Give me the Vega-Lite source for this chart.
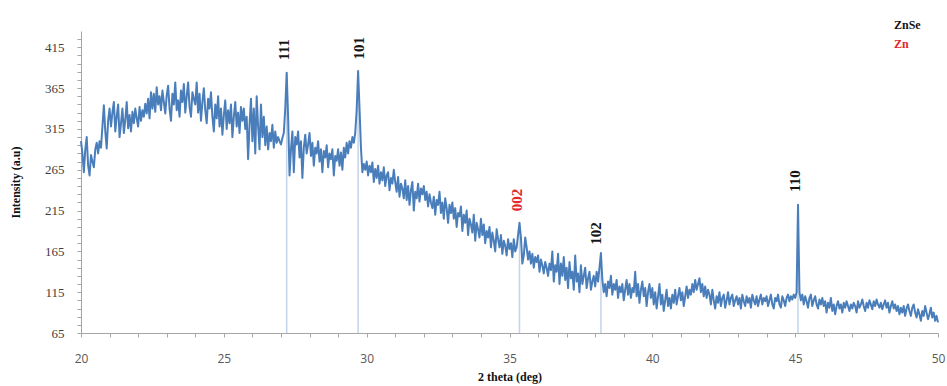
{
"$schema": "https://vega.github.io/schema/vega-lite/v6.json",
"width": 857, "height": 302,
"autosize": {"type": "none"},
"padding": {"left": 81, "top": 31, "right": 9, "bottom": 53},
"background": "white",
"config": {"view": {"stroke": null}},
"datasets": {
"xrd": [
{"t":20.00,"i":300},{"t":20.05,"i":285},{"t":20.10,"i":262},{"t":20.15,"i":290},{"t":20.20,"i":305},{"t":20.25,"i":270},{"t":20.30,"i":258},{"t":20.35,"i":283},{"t":20.40,"i":275},{"t":20.45,"i":268},{"t":20.50,"i":290},{"t":20.55,"i":298},{"t":20.60,"i":285},{"t":20.65,"i":300},{"t":20.70,"i":292},{"t":20.75,"i":318},{"t":20.80,"i":344},{"t":20.85,"i":312},{"t":20.90,"i":291},{"t":20.95,"i":325},
{"t":21.00,"i":340},{"t":21.05,"i":318},{"t":21.10,"i":335},{"t":21.15,"i":348},{"t":21.20,"i":312},{"t":21.25,"i":330},{"t":21.30,"i":345},{"t":21.35,"i":305},{"t":21.40,"i":322},{"t":21.45,"i":340},{"t":21.50,"i":310},{"t":21.55,"i":326},{"t":21.60,"i":348},{"t":21.65,"i":316},{"t":21.70,"i":332},{"t":21.75,"i":312},{"t":21.80,"i":336},{"t":21.85,"i":322},{"t":21.90,"i":340},{"t":21.95,"i":328},
{"t":22.00,"i":318},{"t":22.05,"i":342},{"t":22.10,"i":325},{"t":22.15,"i":338},{"t":22.20,"i":330},{"t":22.25,"i":346},{"t":22.30,"i":334},{"t":22.35,"i":352},{"t":22.40,"i":328},{"t":22.45,"i":360},{"t":22.50,"i":340},{"t":22.55,"i":358},{"t":22.60,"i":336},{"t":22.65,"i":366},{"t":22.70,"i":345},{"t":22.75,"i":355},{"t":22.80,"i":338},{"t":22.85,"i":362},{"t":22.90,"i":348},{"t":22.95,"i":334},
{"t":23.00,"i":356},{"t":23.05,"i":368},{"t":23.10,"i":340},{"t":23.15,"i":325},{"t":23.20,"i":358},{"t":23.25,"i":345},{"t":23.30,"i":372},{"t":23.35,"i":338},{"t":23.40,"i":350},{"t":23.45,"i":330},{"t":23.50,"i":362},{"t":23.55,"i":348},{"t":23.60,"i":370},{"t":23.65,"i":335},{"t":23.70,"i":355},{"t":23.75,"i":372},{"t":23.80,"i":342},{"t":23.85,"i":330},{"t":23.90,"i":360},{"t":23.95,"i":352},
{"t":24.00,"i":345},{"t":24.05,"i":372},{"t":24.10,"i":335},{"t":24.15,"i":358},{"t":24.20,"i":325},{"t":24.25,"i":348},{"t":24.30,"i":365},{"t":24.35,"i":338},{"t":24.40,"i":322},{"t":24.45,"i":352},{"t":24.50,"i":340},{"t":24.55,"i":360},{"t":24.60,"i":330},{"t":24.65,"i":312},{"t":24.70,"i":345},{"t":24.75,"i":328},{"t":24.80,"i":355},{"t":24.85,"i":318},{"t":24.90,"i":340},{"t":24.95,"i":308},
{"t":25.00,"i":332},{"t":25.05,"i":350},{"t":25.10,"i":315},{"t":25.15,"i":338},{"t":25.20,"i":322},{"t":25.25,"i":345},{"t":25.30,"i":305},{"t":25.35,"i":330},{"t":25.40,"i":348},{"t":25.45,"i":318},{"t":25.50,"i":335},{"t":25.55,"i":310},{"t":25.60,"i":342},{"t":25.65,"i":325},{"t":25.70,"i":340},{"t":25.75,"i":315},{"t":25.80,"i":330},{"t":25.85,"i":278},{"t":25.90,"i":320},{"t":25.95,"i":352},
{"t":26.00,"i":300},{"t":26.05,"i":340},{"t":26.10,"i":285},{"t":26.15,"i":355},{"t":26.20,"i":318},{"t":26.25,"i":290},{"t":26.30,"i":345},{"t":26.35,"i":305},{"t":26.40,"i":330},{"t":26.45,"i":295},{"t":26.50,"i":318},{"t":26.55,"i":290},{"t":26.60,"i":310},{"t":26.65,"i":300},{"t":26.70,"i":320},{"t":26.75,"i":292},{"t":26.80,"i":312},{"t":26.85,"i":298},{"t":26.90,"i":305},{"t":26.95,"i":300},
{"t":27.00,"i":296},{"t":27.05,"i":304},{"t":27.10,"i":310},{"t":27.15,"i":340},{"t":27.20,"i":384},{"t":27.25,"i":330},{"t":27.30,"i":258},{"t":27.35,"i":290},{"t":27.40,"i":312},{"t":27.45,"i":262},{"t":27.50,"i":305},{"t":27.55,"i":296},{"t":27.60,"i":312},{"t":27.65,"i":280},{"t":27.70,"i":300},{"t":27.75,"i":255},{"t":27.80,"i":292},{"t":27.85,"i":308},{"t":27.90,"i":285},{"t":27.95,"i":296},
{"t":28.00,"i":310},{"t":28.05,"i":282},{"t":28.10,"i":298},{"t":28.15,"i":270},{"t":28.20,"i":292},{"t":28.25,"i":285},{"t":28.30,"i":300},{"t":28.35,"i":275},{"t":28.40,"i":290},{"t":28.45,"i":262},{"t":28.50,"i":288},{"t":28.55,"i":280},{"t":28.60,"i":295},{"t":28.65,"i":268},{"t":28.70,"i":285},{"t":28.75,"i":278},{"t":28.80,"i":290},{"t":28.85,"i":258},{"t":28.90,"i":282},{"t":28.95,"i":276},
{"t":29.00,"i":290},{"t":29.05,"i":270},{"t":29.10,"i":286},{"t":29.15,"i":265},{"t":29.20,"i":292},{"t":29.25,"i":280},{"t":29.30,"i":298},{"t":29.35,"i":285},{"t":29.40,"i":300},{"t":29.45,"i":292},{"t":29.50,"i":305},{"t":29.55,"i":298},{"t":29.60,"i":310},{"t":29.65,"i":338},{"t":29.70,"i":386},{"t":29.75,"i":340},{"t":29.80,"i":292},{"t":29.85,"i":262},{"t":29.90,"i":272},{"t":29.95,"i":265},
{"t":30.00,"i":275},{"t":30.05,"i":258},{"t":30.10,"i":270},{"t":30.15,"i":262},{"t":30.20,"i":274},{"t":30.25,"i":250},{"t":30.30,"i":266},{"t":30.35,"i":255},{"t":30.40,"i":270},{"t":30.45,"i":248},{"t":30.50,"i":262},{"t":30.55,"i":252},{"t":30.60,"i":268},{"t":30.65,"i":245},{"t":30.70,"i":258},{"t":30.75,"i":262},{"t":30.80,"i":240},{"t":30.85,"i":255},{"t":30.90,"i":248},{"t":30.95,"i":265},
{"t":31.00,"i":250},{"t":31.05,"i":238},{"t":31.10,"i":256},{"t":31.15,"i":232},{"t":31.20,"i":248},{"t":31.25,"i":242},{"t":31.30,"i":230},{"t":31.35,"i":252},{"t":31.40,"i":228},{"t":31.45,"i":245},{"t":31.50,"i":222},{"t":31.55,"i":240},{"t":31.60,"i":250},{"t":31.65,"i":215},{"t":31.70,"i":238},{"t":31.75,"i":230},{"t":31.80,"i":248},{"t":31.85,"i":226},{"t":31.90,"i":242},{"t":31.95,"i":235},
{"t":32.00,"i":245},{"t":32.05,"i":228},{"t":32.10,"i":238},{"t":32.15,"i":220},{"t":32.20,"i":235},{"t":32.25,"i":225},{"t":32.30,"i":218},{"t":32.35,"i":232},{"t":32.40,"i":210},{"t":32.45,"i":228},{"t":32.50,"i":222},{"t":32.55,"i":238},{"t":32.60,"i":212},{"t":32.65,"i":225},{"t":32.70,"i":205},{"t":32.75,"i":230},{"t":32.80,"i":218},{"t":32.85,"i":200},{"t":32.90,"i":222},{"t":32.95,"i":212},
{"t":33.00,"i":225},{"t":33.05,"i":205},{"t":33.10,"i":218},{"t":33.15,"i":195},{"t":33.20,"i":212},{"t":33.25,"i":208},{"t":33.30,"i":220},{"t":33.35,"i":190},{"t":33.40,"i":210},{"t":33.45,"i":200},{"t":33.50,"i":215},{"t":33.55,"i":185},{"t":33.60,"i":205},{"t":33.65,"i":198},{"t":33.70,"i":188},{"t":33.75,"i":210},{"t":33.80,"i":178},{"t":33.85,"i":200},{"t":33.90,"i":192},{"t":33.95,"i":182},
{"t":34.00,"i":205},{"t":34.05,"i":185},{"t":34.10,"i":198},{"t":34.15,"i":175},{"t":34.20,"i":190},{"t":34.25,"i":182},{"t":34.30,"i":195},{"t":34.35,"i":170},{"t":34.40,"i":188},{"t":34.45,"i":178},{"t":34.50,"i":165},{"t":34.55,"i":192},{"t":34.60,"i":180},{"t":34.65,"i":170},{"t":34.70,"i":185},{"t":34.75,"i":162},{"t":34.80,"i":178},{"t":34.85,"i":172},{"t":34.90,"i":160},{"t":34.95,"i":180},
{"t":35.00,"i":168},{"t":35.05,"i":175},{"t":35.10,"i":158},{"t":35.15,"i":180},{"t":35.20,"i":165},{"t":35.25,"i":170},{"t":35.30,"i":185},{"t":35.35,"i":200},{"t":35.40,"i":182},{"t":35.45,"i":150},{"t":35.50,"i":160},{"t":35.55,"i":182},{"t":35.60,"i":170},{"t":35.65,"i":155},{"t":35.70,"i":165},{"t":35.75,"i":150},{"t":35.80,"i":162},{"t":35.85,"i":145},{"t":35.90,"i":158},{"t":35.95,"i":152},
{"t":36.00,"i":160},{"t":36.05,"i":140},{"t":36.10,"i":155},{"t":36.15,"i":148},{"t":36.20,"i":138},{"t":36.25,"i":152},{"t":36.30,"i":145},{"t":36.35,"i":135},{"t":36.40,"i":150},{"t":36.45,"i":142},{"t":36.50,"i":165},{"t":36.55,"i":128},{"t":36.60,"i":148},{"t":36.65,"i":140},{"t":36.70,"i":162},{"t":36.75,"i":125},{"t":36.80,"i":150},{"t":36.85,"i":135},{"t":36.90,"i":158},{"t":36.95,"i":130},
{"t":37.00,"i":145},{"t":37.05,"i":120},{"t":37.10,"i":152},{"t":37.15,"i":132},{"t":37.20,"i":140},{"t":37.25,"i":118},{"t":37.30,"i":160},{"t":37.35,"i":128},{"t":37.40,"i":138},{"t":37.45,"i":115},{"t":37.50,"i":148},{"t":37.55,"i":125},{"t":37.60,"i":135},{"t":37.65,"i":145},{"t":37.70,"i":120},{"t":37.75,"i":132},{"t":37.80,"i":140},{"t":37.85,"i":118},{"t":37.90,"i":128},{"t":37.95,"i":135},
{"t":38.00,"i":122},{"t":38.05,"i":140},{"t":38.10,"i":128},{"t":38.15,"i":145},{"t":38.20,"i":163},{"t":38.25,"i":130},{"t":38.30,"i":115},{"t":38.35,"i":125},{"t":38.40,"i":110},{"t":38.45,"i":128},{"t":38.50,"i":120},{"t":38.55,"i":135},{"t":38.60,"i":112},{"t":38.65,"i":125},{"t":38.70,"i":118},{"t":38.75,"i":130},{"t":38.80,"i":108},{"t":38.85,"i":122},{"t":38.90,"i":115},{"t":38.95,"i":125},
{"t":39.00,"i":105},{"t":39.05,"i":118},{"t":39.10,"i":130},{"t":39.15,"i":112},{"t":39.20,"i":125},{"t":39.25,"i":108},{"t":39.30,"i":120},{"t":39.35,"i":115},{"t":39.40,"i":140},{"t":39.45,"i":110},{"t":39.50,"i":125},{"t":39.55,"i":102},{"t":39.60,"i":118},{"t":39.65,"i":128},{"t":39.70,"i":110},{"t":39.75,"i":120},{"t":39.80,"i":98},{"t":39.85,"i":115},{"t":39.90,"i":125},{"t":39.95,"i":108},
{"t":40.00,"i":120},{"t":40.05,"i":100},{"t":40.10,"i":115},{"t":40.15,"i":95},{"t":40.20,"i":110},{"t":40.25,"i":125},{"t":40.30,"i":100},{"t":40.35,"i":112},{"t":40.40,"i":92},{"t":40.45,"i":105},{"t":40.50,"i":118},{"t":40.55,"i":98},{"t":40.60,"i":108},{"t":40.65,"i":95},{"t":40.70,"i":112},{"t":40.75,"i":102},{"t":40.80,"i":118},{"t":40.85,"i":100},{"t":40.90,"i":110},{"t":40.95,"i":120},
{"t":41.00,"i":105},{"t":41.05,"i":115},{"t":41.10,"i":98},{"t":41.15,"i":110},{"t":41.20,"i":122},{"t":41.25,"i":108},{"t":41.30,"i":118},{"t":41.35,"i":112},{"t":41.40,"i":125},{"t":41.45,"i":115},{"t":41.50,"i":130},{"t":41.55,"i":118},{"t":41.60,"i":125},{"t":41.65,"i":132},{"t":41.70,"i":115},{"t":41.75,"i":125},{"t":41.80,"i":110},{"t":41.85,"i":122},{"t":41.90,"i":108},{"t":41.95,"i":118},
{"t":42.00,"i":112},{"t":42.05,"i":100},{"t":42.10,"i":118},{"t":42.15,"i":105},{"t":42.20,"i":95},{"t":42.25,"i":110},{"t":42.30,"i":102},{"t":42.35,"i":115},{"t":42.40,"i":98},{"t":42.45,"i":108},{"t":42.50,"i":112},{"t":42.55,"i":96},{"t":42.60,"i":105},{"t":42.65,"i":115},{"t":42.70,"i":100},{"t":42.75,"i":108},{"t":42.80,"i":112},{"t":42.85,"i":98},{"t":42.90,"i":105},{"t":42.95,"i":110},
{"t":43.00,"i":100},{"t":43.05,"i":108},{"t":43.10,"i":95},{"t":43.15,"i":112},{"t":43.20,"i":104},{"t":43.25,"i":98},{"t":43.30,"i":110},{"t":43.35,"i":102},{"t":43.40,"i":108},{"t":43.45,"i":96},{"t":43.50,"i":112},{"t":43.55,"i":105},{"t":43.60,"i":100},{"t":43.65,"i":110},{"t":43.70,"i":98},{"t":43.75,"i":106},{"t":43.80,"i":112},{"t":43.85,"i":100},{"t":43.90,"i":108},{"t":43.95,"i":104},
{"t":44.00,"i":110},{"t":44.05,"i":98},{"t":44.10,"i":105},{"t":44.15,"i":112},{"t":44.20,"i":100},{"t":44.25,"i":95},{"t":44.30,"i":108},{"t":44.35,"i":104},{"t":44.40,"i":112},{"t":44.45,"i":100},{"t":44.50,"i":96},{"t":44.55,"i":110},{"t":44.60,"i":105},{"t":44.65,"i":98},{"t":44.70,"i":108},{"t":44.75,"i":112},{"t":44.80,"i":104},{"t":44.85,"i":110},{"t":44.90,"i":106},{"t":44.95,"i":112},
{"t":45.00,"i":108},{"t":45.05,"i":115},{"t":45.10,"i":222},{"t":45.15,"i":115},{"t":45.20,"i":105},{"t":45.25,"i":112},{"t":45.30,"i":100},{"t":45.35,"i":110},{"t":45.40,"i":104},{"t":45.45,"i":96},{"t":45.50,"i":108},{"t":45.55,"i":112},{"t":45.60,"i":98},{"t":45.65,"i":105},{"t":45.70,"i":110},{"t":45.75,"i":100},{"t":45.80,"i":95},{"t":45.85,"i":106},{"t":45.90,"i":100},{"t":45.95,"i":108},
{"t":46.00,"i":98},{"t":46.05,"i":104},{"t":46.10,"i":90},{"t":46.15,"i":102},{"t":46.20,"i":96},{"t":46.25,"i":108},{"t":46.30,"i":92},{"t":46.35,"i":100},{"t":46.40,"i":88},{"t":46.45,"i":98},{"t":46.50,"i":104},{"t":46.55,"i":95},{"t":46.60,"i":100},{"t":46.65,"i":90},{"t":46.70,"i":102},{"t":46.75,"i":96},{"t":46.80,"i":104},{"t":46.85,"i":98},{"t":46.90,"i":92},{"t":46.95,"i":100},
{"t":47.00,"i":95},{"t":47.05,"i":102},{"t":47.10,"i":98},{"t":47.15,"i":90},{"t":47.20,"i":104},{"t":47.25,"i":96},{"t":47.30,"i":100},{"t":47.35,"i":106},{"t":47.40,"i":98},{"t":47.45,"i":92},{"t":47.50,"i":102},{"t":47.55,"i":96},{"t":47.60,"i":105},{"t":47.65,"i":100},{"t":47.70,"i":94},{"t":47.75,"i":104},{"t":47.80,"i":98},{"t":47.85,"i":106},{"t":47.90,"i":100},{"t":47.95,"i":96},
{"t":48.00,"i":102},{"t":48.05,"i":94},{"t":48.10,"i":100},{"t":48.15,"i":105},{"t":48.20,"i":96},{"t":48.25,"i":102},{"t":48.30,"i":90},{"t":48.35,"i":98},{"t":48.40,"i":104},{"t":48.45,"i":95},{"t":48.50,"i":100},{"t":48.55,"i":92},{"t":48.60,"i":98},{"t":48.65,"i":88},{"t":48.70,"i":96},{"t":48.75,"i":90},{"t":48.80,"i":98},{"t":48.85,"i":86},{"t":48.90,"i":95},{"t":48.95,"i":100},
{"t":49.00,"i":92},{"t":49.05,"i":86},{"t":49.10,"i":96},{"t":49.15,"i":100},{"t":49.20,"i":90},{"t":49.25,"i":84},{"t":49.30,"i":94},{"t":49.35,"i":88},{"t":49.40,"i":80},{"t":49.45,"i":92},{"t":49.50,"i":86},{"t":49.55,"i":98},{"t":49.60,"i":90},{"t":49.65,"i":82},{"t":49.70,"i":88},{"t":49.75,"i":96},{"t":49.80,"i":84},{"t":49.85,"i":90},{"t":49.90,"i":80},{"t":49.95,"i":86},
{"t":50.00,"i":78}
],
"peaks": [
{"t":27.20,"i":384},{"t":29.70,"i":386},{"t":35.35,"i":200},{"t":38.20,"i":163},{"t":45.10,"i":222}
],
"labels": [
{"t":27.12,"i":412,"label":"111","phase":"ZnSe"},
{"t":29.73,"i":414,"label":"101","phase":"ZnSe"},
{"t":35.26,"i":228,"label":"002","phase":"Zn"},
{"t":38.03,"i":187,"label":"102","phase":"ZnSe"},
{"t":45.00,"i":251,"label":"110","phase":"ZnSe"}
]
},
"encoding": {
"x": {"field": "t", "type": "quantitative",
  "scale": {"domain": [20, 50], "nice": false, "zero": false},
  "axis": {"title": "2 theta (deg)", "values": [20,21,22,23,24,25,26,27,28,29,30,31,32,33,34,35,36,37,38,39,40,41,42,43,44,45,46,47,48,49,50],
    "labelExpr": "datum.value % 5 == 0 ? datum.label : ''", "labelFlush": false, "labelOverlap": false,
    "grid": false, "domainColor": "#a6a6a6", "tickColor": "#a6a6a6", "tickSize": 4,
    "labelFont": "Open Sans", "labelFontSize": 12, "labelColor": "#595959", "labelPadding": 16,
    "titleFont": "Liberation Serif", "titleFontWeight": "bold", "titleFontSize": 12, "titleColor": "#111111", "titlePadding": 7}},
"y": {"field": "i", "type": "quantitative",
  "scale": {"domain": [65, 435], "nice": false, "zero": false},
  "axis": {"title": "Intensity (a.u)", "values": [65,75,85,95,105,115,125,135,145,155,165,175,185,195,205,215,225,235,245,255,265,275,285,295,305,315,325,335,345,355,365,375,385,395,405,415,425],
    "labelExpr": "(datum.value - 65) % 50 == 0 ? datum.label : ''", "labelFlush": false, "labelOverlap": false,
    "grid": false, "domainColor": "#a6a6a6", "tickColor": "#a6a6a6", "tickSize": 4,
    "labelFont": "Liberation Serif", "labelFontSize": 13, "labelColor": "#404040", "labelPadding": 13,
    "titleFont": "Liberation Serif", "titleFontWeight": "bold", "titleFontSize": 12, "titleColor": "#111111", "titlePadding": 22}}
},
"layer": [
{"data": {"name": "peaks"},
 "mark": {"type": "rule", "color": "#c3d4ea", "strokeWidth": 1.5},
 "encoding": {"y2": {"datum": 65}}},
{"data": {"name": "xrd"},
 "mark": {"type": "line", "color": "#4a7ebb", "strokeWidth": 2, "strokeJoin": "round"},
 "encoding": {}},
{"data": {"name": "labels"},
 "mark": {"type": "text", "angle": 270, "align": "center", "baseline": "middle", "font": "Liberation Serif", "fontWeight": "bold", "fontSize": 15},
 "encoding": {
   "text": {"field": "label"},
   "color": {"field": "phase", "type": "nominal",
     "scale": {"domain": ["ZnSe", "Zn"], "range": ["#151515", "#e3262b"]},
     "legend": {"orient": "none", "legendX": 801, "legendY": -12, "title": null,
       "symbolOpacity": 0, "symbolSize": 0, "symbolStrokeWidth": 0, "labelOffset": 0,
       "labelFont": "Liberation Serif", "labelFontWeight": "bold", "labelFontSize": 12, "rowPadding": 7,
       "encode": {"labels": {"update": {"fill": {"scale": "color", "field": "value"}}}}}}
 }}
]
}
